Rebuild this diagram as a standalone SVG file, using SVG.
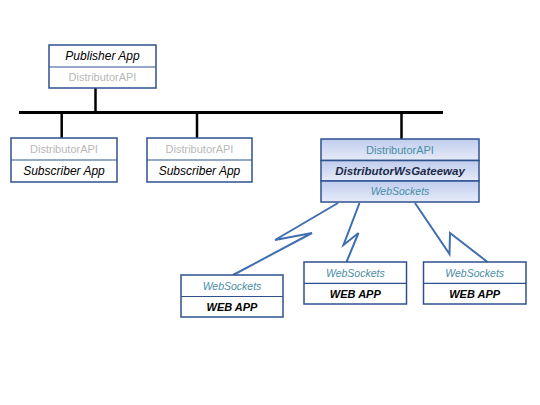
<svg xmlns="http://www.w3.org/2000/svg" width="540" height="405" viewBox="0 0 540 405">
<defs>
<linearGradient id="gw" x1="0" y1="0" x2="0" y2="1">
<stop offset="0" stop-color="#c0cdee"/>
<stop offset="1" stop-color="#e6ebf8"/>
</linearGradient>
<style>
.box{fill:#ffffff;stroke:#2f528f;stroke-width:1.5}
.gbox{fill:url(#gw);stroke:#2f528f;stroke-width:1.5}
.bus{stroke:#000;stroke-width:3;fill:none}
.drop{stroke:#000;stroke-width:2.5;fill:none}
.bolt{stroke:#3f6fb0;stroke-width:2;fill:none;stroke-linejoin:miter}
text{font-family:"Liberation Sans",Arial,sans-serif;text-anchor:middle}
.app{font-size:12px;font-style:italic;fill:#000}
.api{font-size:11px;fill:#b8b8b8}
.api2{font-size:11px;fill:#4a8ea6}
.ws{font-size:10.5px;font-style:italic;fill:#4a8ea6}
.gw{font-size:11.5px;font-style:italic;font-weight:bold;fill:#1c2a4a}
.web{font-size:11px;font-style:italic;font-weight:bold;fill:#000}
</style>
</defs>
<rect width="540" height="405" fill="#ffffff"/>
<g id="connectors">
<line class="bus" x1="19" y1="112.5" x2="443" y2="112.5"/>
<line class="drop" x1="95.5" y1="88" x2="95.5" y2="112.5"/>
<line class="drop" x1="61.7" y1="112.5" x2="61.7" y2="138"/>
<line class="drop" x1="197" y1="112.5" x2="197" y2="138"/>
<line class="drop" x1="401.5" y1="112.5" x2="401.5" y2="139"/>
<polyline class="bolt" points="338,203 275,240 312,233 233,275"/>
<polyline class="bolt" points="359.5,203 343.5,245 358.5,233 346.5,262"/>
<polyline class="bolt" points="415,203 449.5,254 450,233 487.5,262"/>
</g>
<g id="publisher">
<rect class="box" x="49" y="45" width="107" height="43"/>
<line stroke="#2f528f" stroke-width="1.2" x1="49" y1="67" x2="156" y2="67"/>
<text class="app" x="102.5" y="60">Publisher App</text>
<text class="api" x="102.5" y="81">DistributorAPI</text>
</g>
<g id="subscriber1">
<rect class="box" x="11" y="138" width="106" height="44"/>
<line stroke="#2f528f" stroke-width="1.2" x1="11" y1="160" x2="117" y2="160"/>
<text class="api" x="64" y="153">DistributorAPI</text>
<text class="app" x="64" y="175">Subscriber App</text>
</g>
<g id="subscriber2">
<rect class="box" x="147" y="138" width="105" height="44"/>
<line stroke="#2f528f" stroke-width="1.2" x1="147" y1="160" x2="252" y2="160"/>
<text class="api" x="199.5" y="153">DistributorAPI</text>
<text class="app" x="199.5" y="175">Subscriber App</text>
</g>
<g id="gateway">
<rect class="gbox" x="321" y="139" width="158" height="21.5"/>
<rect class="gbox" x="321" y="160.5" width="158" height="20.5"/>
<rect class="gbox" x="321" y="181" width="158" height="21"/>
<text class="api2" x="400" y="154">DistributorAPI</text>
<text class="gw" x="400" y="175">DistributorWsGateeway</text>
<text class="ws" x="400" y="194.5">WebSockets</text>
</g>
<g id="webapp1">
<rect class="box" x="181" y="275" width="102" height="42"/>
<line stroke="#2f528f" stroke-width="1.2" x1="181" y1="296.5" x2="283" y2="296.5"/>
<text class="ws" x="232" y="290">WebSockets</text>
<text class="web" x="232" y="311">WEB APP</text>
</g>
<g id="webapp2">
<rect class="box" x="304" y="262" width="102.5" height="42"/>
<line stroke="#2f528f" stroke-width="1.2" x1="304" y1="283.3" x2="406.5" y2="283.3"/>
<text class="ws" x="355.3" y="276.5">WebSockets</text>
<text class="web" x="355.3" y="297.5">WEB APP</text>
</g>
<g id="webapp3">
<rect class="box" x="423.5" y="262" width="102.5" height="42"/>
<line stroke="#2f528f" stroke-width="1.2" x1="423.5" y1="283.3" x2="526" y2="283.3"/>
<text class="ws" x="474.7" y="276.5">WebSockets</text>
<text class="web" x="474.7" y="297.5">WEB APP</text>
</g>
</svg>
